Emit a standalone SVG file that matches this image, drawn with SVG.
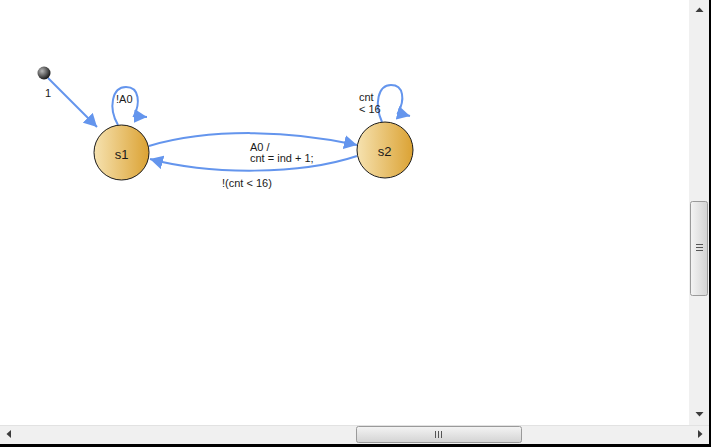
<svg xmlns="http://www.w3.org/2000/svg" width="711" height="447" viewBox="0 0 711 447">
<style>
.edge{fill:none;stroke:#6495ed;stroke-width:2}
.state{stroke:#1a1a1a;stroke-width:1;fill:url(#gold)}
.nlabel{font-family:"Liberation Sans",Arial,sans-serif;font-size:13px;fill:#1a1a1a;text-anchor:middle}
.elabel{font-family:"Liberation Sans",Arial,sans-serif;font-size:11px;fill:#1a1a1a}
.track{fill:#f0f0f0}
.thumb{fill:url(#thumbV);stroke:#9a9a9a;stroke-width:1}
.glyph{fill:#3c3c3c}
.grip{stroke:#555;stroke-width:1}
</style>
<defs>
<linearGradient id="gold" x1="0" y1="0" x2="1" y2="0">
<stop offset="0" stop-color="#f6e2b0"/>
<stop offset="1" stop-color="#dba233"/>
</linearGradient>
<radialGradient id="dot" cx="0.35" cy="0.35" r="0.7">
<stop offset="0" stop-color="#b8b8b8"/>
<stop offset="1" stop-color="#111"/>
</radialGradient>
<linearGradient id="thumbV" x1="0" y1="0" x2="1" y2="0">
<stop offset="0" stop-color="#f4f4f4"/>
<stop offset="1" stop-color="#d3d3d3"/>
</linearGradient>
<linearGradient id="thumbH" x1="0" y1="0" x2="0" y2="1">
<stop offset="0" stop-color="#f4f4f4"/>
<stop offset="1" stop-color="#d3d3d3"/>
</linearGradient>
<marker id="arrow" markerUnits="userSpaceOnUse" markerWidth="14" markerHeight="14" refX="13" refY="7" orient="auto">
<path d="M0,0 L13,7 L0,14 z" fill="#6495ed"/>
</marker>
</defs>
<rect width="711" height="447" fill="#fff"/>

<g id="edges">
<path id="e-init" class="edge" d="M48,78 L97,127" marker-end="url(#arrow)"/>
<path id="e-s1-loop" class="edge" d="M118,125 C108,108 112,87 126,87 C140,87 140,104 134,116 L147,117" marker-end="url(#arrow)"/>
<path id="e-s2-loop" class="edge" d="M382,122 C374,104 378,85 391,85 C404,85 405,100 398,113 L410,116" marker-end="url(#arrow)"/>
<path id="e-s1-s2" class="edge" d="M149,146 C210,128 290,130 357,145" marker-end="url(#arrow)"/>
<path id="e-s2-s1" class="edge" d="M357,156 C300,175 210,175 150,159" marker-end="url(#arrow)"/>
<text class="elabel" x="45" y="97">1</text>
<text class="elabel" x="116" y="103">!A0</text>
<text class="elabel" x="359" y="101">cnt</text>
<text class="elabel" x="359" y="113">&lt; 16</text>
<text class="elabel" x="250" y="151">A0 /</text>
<text class="elabel" x="250" y="162">cnt = ind + 1;</text>
<text class="elabel" x="222" y="187">!(cnt &lt; 16)</text>
</g>

<g id="init">
<circle cx="44" cy="73" r="6.5" fill="url(#dot)"/>
</g>
<g id="s1">
<circle class="state" cx="121.5" cy="152.5" r="27.5"/>
<text class="nlabel" x="121.5" y="159">s1</text>
</g>
<g id="s2">
<circle class="state" cx="385" cy="150" r="28"/>
<text class="nlabel" x="384.5" y="156">s2</text>
</g>

<g id="scrollbars">
<rect class="track" x="689" y="0" width="20" height="425"/>
<path class="glyph" d="M695.5,12 L699.5,7.5 L703.5,12 z"/>
<path class="glyph" d="M695.5,412 L699.5,416.5 L703.5,412 z"/>
<rect class="thumb" x="690.5" y="201.5" width="17" height="94" rx="2"/>
<g class="grip"><line x1="696" y1="244.5" x2="703" y2="244.5"/><line x1="696" y1="247.5" x2="703" y2="247.5"/><line x1="696" y1="250.5" x2="703" y2="250.5"/></g>
<rect class="track" x="0" y="425" width="709" height="19"/>
<line x1="0" y1="425.5" x2="709" y2="425.5" stroke="#e2e2e2"/>
<path class="glyph" d="M11,430 L6.5,434 L11,438 z"/>
<path class="glyph" d="M698,430 L702.5,434 L698,438 z"/>
<rect x="356.5" y="426.5" width="165" height="16" rx="2" fill="url(#thumbH)" stroke="#9a9a9a"/>
<g class="grip"><line x1="435.5" y1="431" x2="435.5" y2="438"/><line x1="438.5" y1="431" x2="438.5" y2="438"/><line x1="441.5" y1="431" x2="441.5" y2="438"/></g>
<rect x="709" y="0" width="2" height="447" fill="#000"/>
<rect x="0" y="444" width="711" height="3" fill="#000"/>
</g>
</svg>
